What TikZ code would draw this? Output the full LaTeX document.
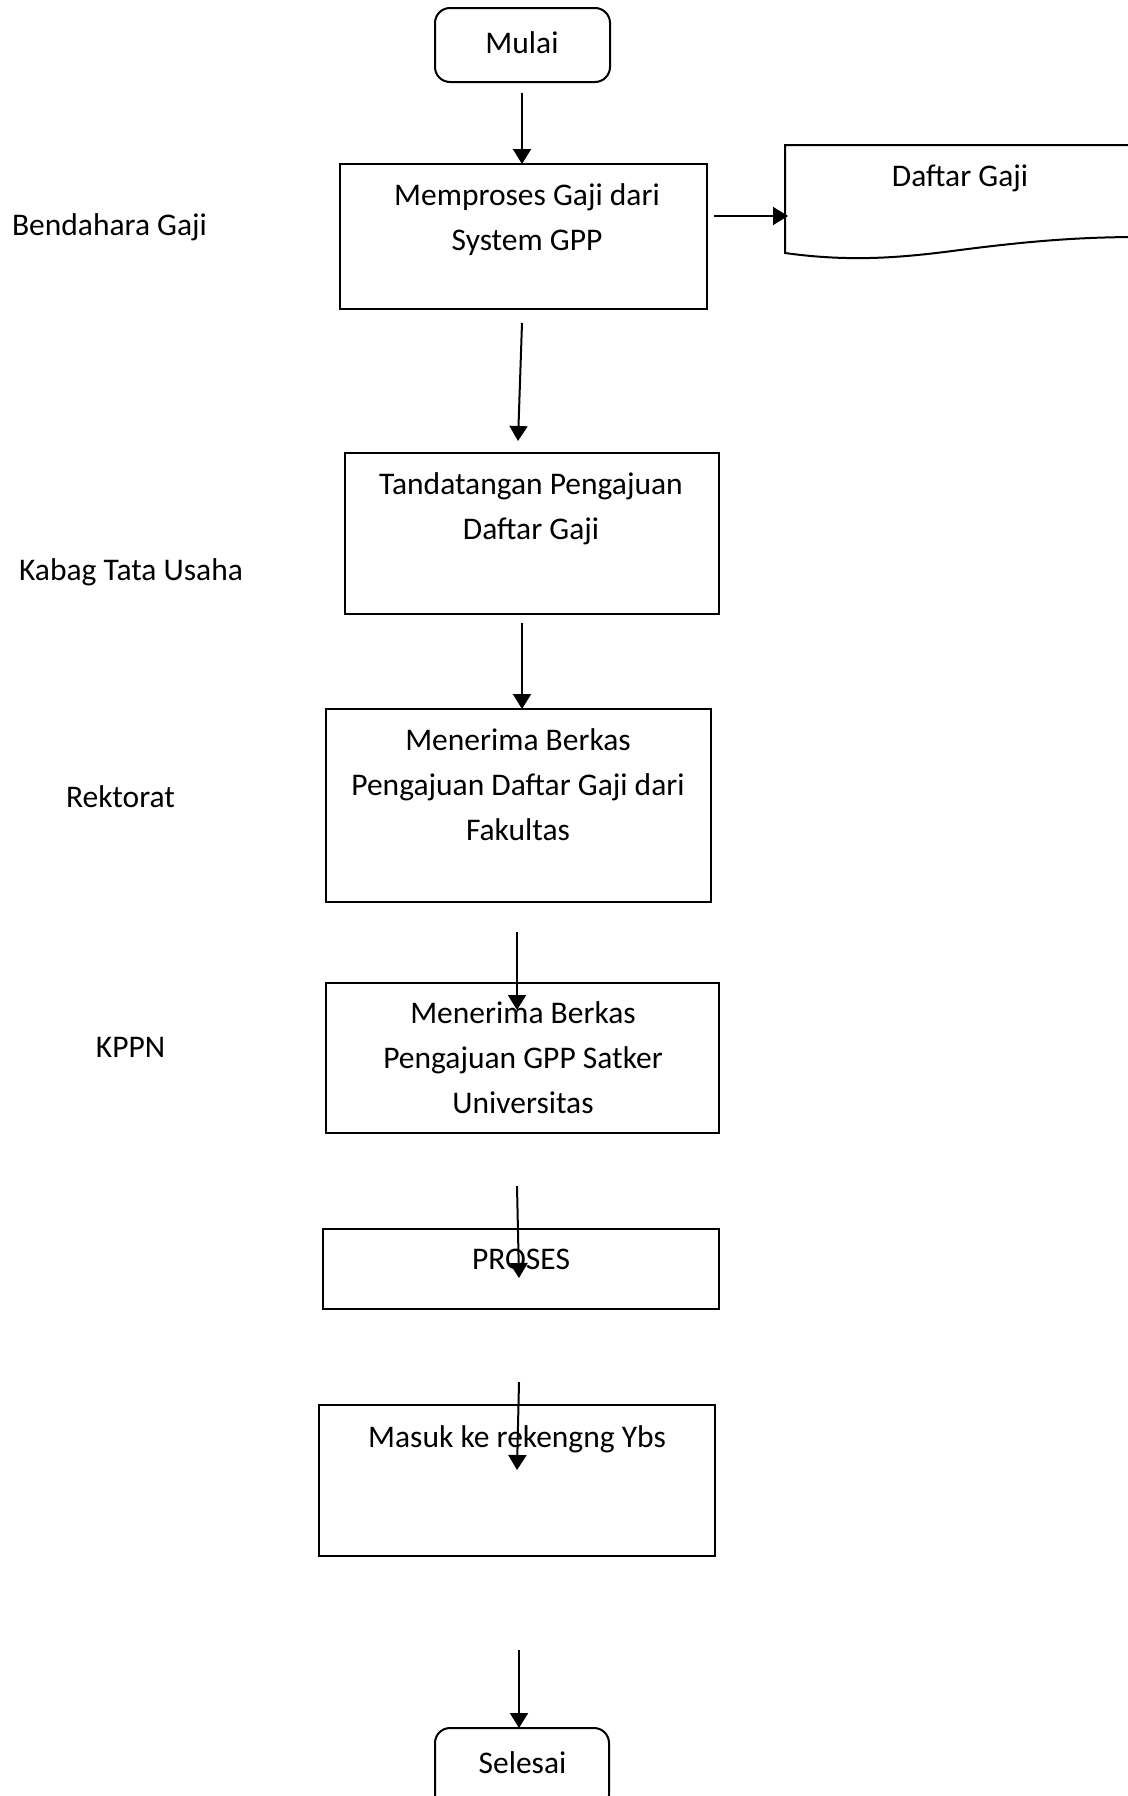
\documentclass[tikz,border=0pt]{standalone}
\usepackage{fontspec}
\setmainfont{Carlito}
\usetikzlibrary{arrows.meta}
\begin{document}
\begin{tikzpicture}[x=1pt,y=-1pt,
  every node/.style={font=\fontsize{31.5}{45}\selectfont, inner sep=0pt},
  box/.style={draw, line width=2pt, rectangle},
  term/.style={draw, line width=2pt, rounded corners=15pt},
  txt/.style={align=center, anchor=base},
  arr/.style={line width=2pt, -{Triangle[width=18pt,length=15pt]}}]
\useasboundingbox (0,0) rectangle (1127,1796);

% terminals
\node[term, minimum width=175pt, minimum height=74pt] (mulai) at (522.5,45) {};
\node[txt] (tmulai) at (522,53) {Mulai};
\node[term, minimum width=174pt, minimum height=82pt] (selesai) at (522,1769) {};
\node[txt] (tselesai) at (522.5,1773) {Selesai};

% process boxes (text anchored at the baseline of its last line)
\node[box, minimum width=367pt, minimum height=145pt] (b1) at (523.5,236.5) {};
\node[txt] (t1) at (527,250) {Memproses Gaji dari\\System GPP};
\node[box, minimum width=374pt, minimum height=161pt] (b2) at (532,533.5) {};
\node[txt] (t2) at (531,539) {Tandatangan Pengajuan\\Daftar Gaji};
\node[box, minimum width=385pt, minimum height=193pt] (b3) at (518.5,805.5) {};
\node[txt] (t3) at (518,840) {Menerima Berkas\\Pengajuan Daftar Gaji dari\\Fakultas};
\node[box, minimum width=393pt, minimum height=150pt] (b4) at (522.5,1058) {};
\node[txt] (t4) at (523,1113) {Menerima Berkas\\Pengajuan GPP Satker\\Universitas};
\node[box, minimum width=396pt, minimum height=80pt] (b5) at (521,1269) {};
\node[txt] (t5) at (521,1269) {PROSES};
\node[box, minimum width=396pt, minimum height=151pt] (b6) at (517,1480.5) {};
\node[txt] (t6) at (517,1447) {Masuk ke rekengng Ybs};

% document shape
\draw[line width=2pt] (1140,145) -- (785,145) -- (785,253)
  .. controls (850,262) and (900,258) .. (960,250)
  .. controls (1030,241) and (1080,237) .. (1140,237);
\node[txt] (dg) at (960,186) {Daftar Gaji};

% lane labels
\node[txt] (l1) at (109.5,235) {Bendahara Gaji};
\node[txt] (l2) at (131,580) {Kabag Tata Usaha};
\node[txt] (l3) at (120.5,807) {Rektorat};
\node[txt] (l4) at (130.5,1057) {KPPN};

% connector ends
\coordinate (a0s) at (522,93);   \coordinate (a0e) at (522,164);
\coordinate (ads) at (714,216);  \coordinate (ade) at (788,216);
\coordinate (a1s) at (522,323);  \coordinate (a1e) at (518,441);
\coordinate (a2s) at (522,623);  \coordinate (a2e) at (522,709);
\coordinate (a3s) at (517,932);  \coordinate (a3e) at (517,1010);
\coordinate (a4s) at (517,1186); \coordinate (a4e) at (519,1278);
\coordinate (a5s) at (519,1382); \coordinate (a5e) at (517,1470);
\coordinate (a6s) at (519,1650); \coordinate (a6e) at (519,1728);

\draw[arr] (a0s) -- (a0e);
\draw[arr] (ads) -- (ade);
\draw[arr] (a1s) -- (a1e);
\draw[arr] (a2s) -- (a2e);
\draw[arr] (a3s) -- (a3e);
\draw[arr] (a4s) -- (a4e);
\draw[arr] (a5s) -- (a5e);
\draw[arr] (a6s) -- (a6e);
\end{tikzpicture}
\end{document}
